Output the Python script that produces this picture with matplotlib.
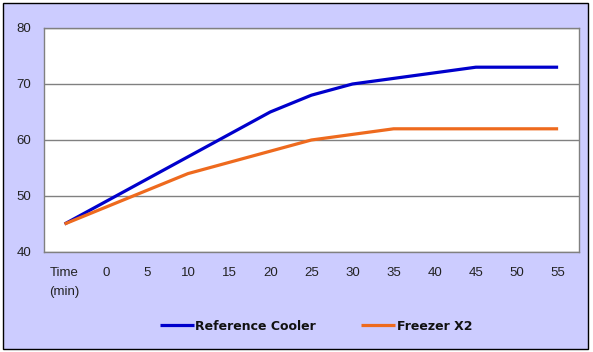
import matplotlib
matplotlib.use("Agg")
import matplotlib.pyplot as plt
from matplotlib.patches import Rectangle

# Data
categories = ["Time\n(min)", "0", "5", "10", "15", "20", "25", "30", "35", "40", "45", "50", "55"]
reference_cooler = [45, 49, 53, 57, 61, 65, 68, 70, 71, 72, 73, 73, 73]
freezer_x2 = [45, 48, 51, 54, 56, 58, 60, 61, 62, 62, 62, 62, 62]
y_ticks = [40, 50, 60, 70, 80]

plt.rcParams['font.family'] = ['Liberation Sans', 'DejaVu Sans']

fig = plt.figure(figsize=(5.93, 3.52), dpi=100)
fig.patch.set_facecolor("white")

# lavender chart area with thin black frame (kept behind the axes)
fig.patches.append(Rectangle((3 / 593, 3 / 352), 585 / 593, 346 / 352,
                             transform=fig.transFigure, facecolor="#ccccff",
                             edgecolor="black", linewidth=1.0, zorder=-10))

ax = fig.add_axes([44 / 593, 1 - 252 / 352, 534.7 / 593, 224 / 352])
ax.set_facecolor("white")

x = range(len(categories))
ax.plot(x, reference_cooler, color="#0000cc", linewidth=2.3,
        solid_joinstyle="round", solid_capstyle="butt", label="Reference Cooler")
ax.plot(x, freezer_x2, color="#ee6a1e", linewidth=2.3,
        solid_joinstyle="round", solid_capstyle="butt", label="Freezer X2")

ax.set_xlim(-0.5, len(categories) - 0.5)
ax.set_ylim(40, 80)
ax.set_yticks(y_ticks)
ax.set_yticklabels([str(v) for v in y_ticks], fontsize=9.5)
ax.set_xticks(list(x))
ax.set_xticklabels(categories, fontsize=9.5, linespacing=1.7, va="top",
                   multialignment="center")

ax.grid(axis="y", color="#808080", linewidth=1.0)
ax.set_axisbelow(True)
for side in ax.spines.values():
    side.set_color("#808080")
    side.set_linewidth(1.0)
ax.tick_params(axis="both", length=0, colors="#222222")
ax.tick_params(axis="y", pad=9)
ax.tick_params(axis="x", pad=11)

# legend in the bottom band, bold and a bit wide like the original
leg = ax.legend(loc="center", bbox_to_anchor=(316 / 593, 1 - 326 / 352),
                bbox_transform=fig.transFigure, ncol=2, frameon=False,
                handlelength=2.7, handletextpad=0.15, columnspacing=3.6,
                prop={"family": "DejaVu Sans", "weight": "bold", "size": 9})
for t in leg.get_texts():
    t.set_color("#111111")

fig.savefig("out.png", dpi=100, facecolor=fig.get_facecolor())
